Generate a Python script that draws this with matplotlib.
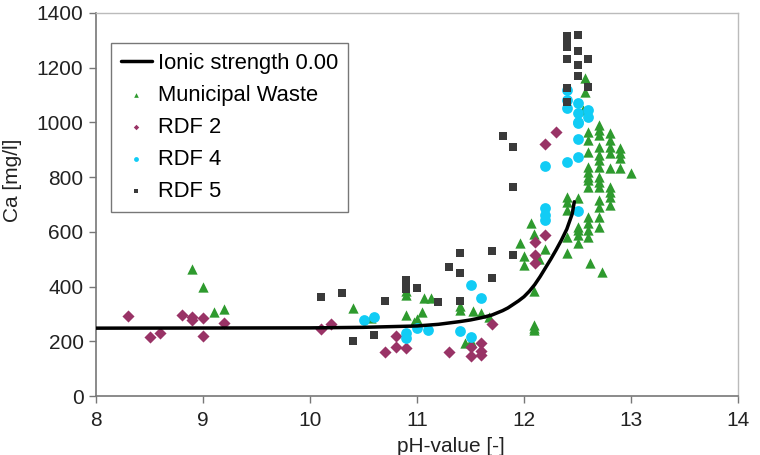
import matplotlib
matplotlib.use("Agg")
import matplotlib.pyplot as plt

plt.rcParams['font.family'] = ['Liberation Sans', 'DejaVu Sans']

# Ionic strength 0.00 model curve
curve_ph = [8.0, 10.0, 10.5, 11.0, 11.2, 11.4, 11.5, 11.6, 11.7, 11.8, 11.85, 11.9, 11.95,
            12.0, 12.05, 12.1, 12.15, 12.2, 12.25, 12.3, 12.35, 12.4, 12.45, 12.47]
curve_ca = [248, 249, 251, 256, 262, 272, 278, 286, 296, 312, 322, 335, 348,
            363, 383, 407, 436, 468, 500, 534, 570, 610, 665, 710]

# Municipal Waste
mw_ph = [8.9, 9.0, 9.1, 9.2, 10.4, 10.57,
         10.9, 10.9, 10.9, 10.97, 11.0, 11.05, 11.07, 11.13, 11.4, 11.4, 11.45, 11.5, 11.52, 11.6, 11.67,
         11.96, 12.0, 12.0, 12.07, 12.09, 12.09, 12.09, 12.09, 12.09, 12.14, 12.2,
         12.4, 12.4, 12.4, 12.4, 12.4,
         12.5, 12.5, 12.5, 12.5, 12.5,
         12.6, 12.6, 12.6, 12.6, 12.6, 12.6, 12.6, 12.6, 12.6, 12.6, 12.6, 12.6, 12.62,
         12.7, 12.7, 12.7, 12.7, 12.7, 12.7, 12.7, 12.7, 12.7, 12.7, 12.7, 12.7, 12.7, 12.7, 12.73,
         12.8, 12.8, 12.8, 12.8, 12.8, 12.8, 12.8, 12.8, 12.8,
         12.9, 12.9, 12.9, 12.9, 13.0,
         12.57, 12.57, 12.55]
mw_ca = [463, 397, 307, 317, 323, 284,
         384, 370, 296, 272, 280, 308, 357, 357, 330, 316, 192, 200, 311, 304, 288,
         558, 512, 479, 631, 592, 384, 259, 248, 241, 501, 536,
         728, 710, 680, 582, 521,
         722, 619, 607, 588, 558,
         966, 936, 893, 838, 820, 802, 789, 765, 655, 631, 607, 582, 485,
         990, 972, 954, 911, 881, 863, 838, 802, 783, 765, 716, 692, 655, 619, 454,
         960, 936, 911, 887, 832, 765, 747, 728, 698,
         905, 887, 869, 832, 814,
         1161, 1112, 1045]

# RDF 2
rdf2_ph = [8.3, 8.5, 8.6, 8.8, 8.9, 8.9, 9.0, 9.0, 9.2, 10.1, 10.2,
           10.7, 10.8, 10.8, 10.9, 11.3, 11.5, 11.5, 11.6, 11.6, 11.6, 11.7,
           12.3, 12.2, 12.2, 12.1, 12.1, 12.1]
rdf2_ca = [292, 215, 229, 296, 288, 278, 284, 219, 266, 244, 263,
           162, 219, 178, 174, 160, 180, 146, 193, 166, 150, 263,
           966, 921, 588, 564, 515, 487]

# RDF 4
rdf4_ph = [10.5, 10.6, 10.9, 10.9, 11.0, 11.1, 11.4, 11.5, 11.5, 11.6,
           12.5, 12.5, 12.5, 12.4, 12.2, 12.2, 12.2, 12.2, 12.5,
           12.4, 12.4, 12.4, 12.5, 12.5, 12.5, 12.6, 12.6]
rdf4_ca = [278, 290, 229, 211, 247, 241, 239, 406, 215, 357,
           999, 939, 875, 857, 841, 688, 660, 645, 676,
           1118, 1082, 1052, 1070, 1033, 1003, 1045, 1020]

# RDF 5
rdf5_ph = [10.1, 10.3, 10.4, 10.6, 10.7, 10.9, 10.9, 10.9, 11.0, 11.2, 11.3, 11.4, 11.4, 11.4,
           11.7, 11.7, 11.9, 11.8, 11.9, 11.9,
           12.4, 12.4, 12.4, 12.5, 12.5, 12.4, 12.6, 12.5, 12.5, 12.6, 12.4, 12.4]
rdf5_ca = [361, 375, 201, 223, 347, 390, 410, 425, 394, 342, 473, 521, 451, 348,
           530, 432, 515, 951, 911, 765,
           1315, 1295, 1275, 1319, 1262, 1232, 1232, 1210, 1170, 1130, 1125, 1076]

xticks = [8, 9, 10, 11, 12, 13, 14]
yticks = [0, 200, 400, 600, 800, 1000, 1200, 1400]

fig = plt.figure(figsize=(7.6, 4.55), dpi=100)
ax = fig.add_axes([96/760, 1-396/455, (738-96)/760, (396-13)/455])

ax.scatter(mw_ph, mw_ca, marker='^', s=55, color='#2e9a2e', linewidths=0, label='Municipal Waste', zorder=3)
ax.scatter(rdf2_ph, rdf2_ca, marker='D', s=38, color='#993366', linewidths=0, label='RDF 2', zorder=3)
ax.scatter(rdf4_ph, rdf4_ca, marker='o', s=60, color='#11ccf5', linewidths=0, label='RDF 4', zorder=3)
ax.scatter(rdf5_ph, rdf5_ca, marker='s', s=38, color='#3a3a3a', linewidths=0, label='RDF 5', zorder=3)
ax.plot(curve_ph, curve_ca, color='black', lw=2.5, label='Ionic strength 0.00', zorder=4,
        solid_joinstyle='round', solid_capstyle='round')

ax.set_xlim(8, 14)
ax.set_ylim(0, 1400)
ax.set_xticks(xticks)
ax.set_yticks(yticks)
ax.tick_params(axis='both', labelsize=15, direction='out', length=5, width=1,
               color='#777777', labelcolor='#222222')
ax.tick_params(axis='x', pad=6)
ax.tick_params(axis='y', pad=4)

for s in ['left', 'bottom']:
    ax.spines[s].set_color('#777777')
    ax.spines[s].set_linewidth(1.2)
for s in ['top', 'right']:
    ax.spines[s].set_color('#bbbbbb')
    ax.spines[s].set_linewidth(1.0)

ax.set_xlabel('pH-value [-]', fontsize=15, color='#222222')
ax.set_ylabel('Ca [mg/l]', fontsize=15, color='#222222')
ax.xaxis.set_label_coords((451-96)/642, -0.107)
ax.yaxis.set_label_coords((22-96)/642, 0.564)

handles, labels = ax.get_legend_handles_labels()
order = [4, 0, 1, 2, 3]
leg = ax.legend([handles[i] for i in order], [labels[i] for i in order],
                loc='upper left', bbox_to_anchor=((111-96)/642, (396-43)/383),
                fontsize=15.8, frameon=True, fancybox=False, framealpha=1,
                edgecolor='#777777', markerscale=0.45, handlelength=1.4,
                handletextpad=0.3, labelspacing=0.5, borderpad=0.45,
                borderaxespad=0)
leg.get_frame().set_linewidth(1.0)
leg.set_zorder(5)

fig.savefig('out.png', dpi=100)
